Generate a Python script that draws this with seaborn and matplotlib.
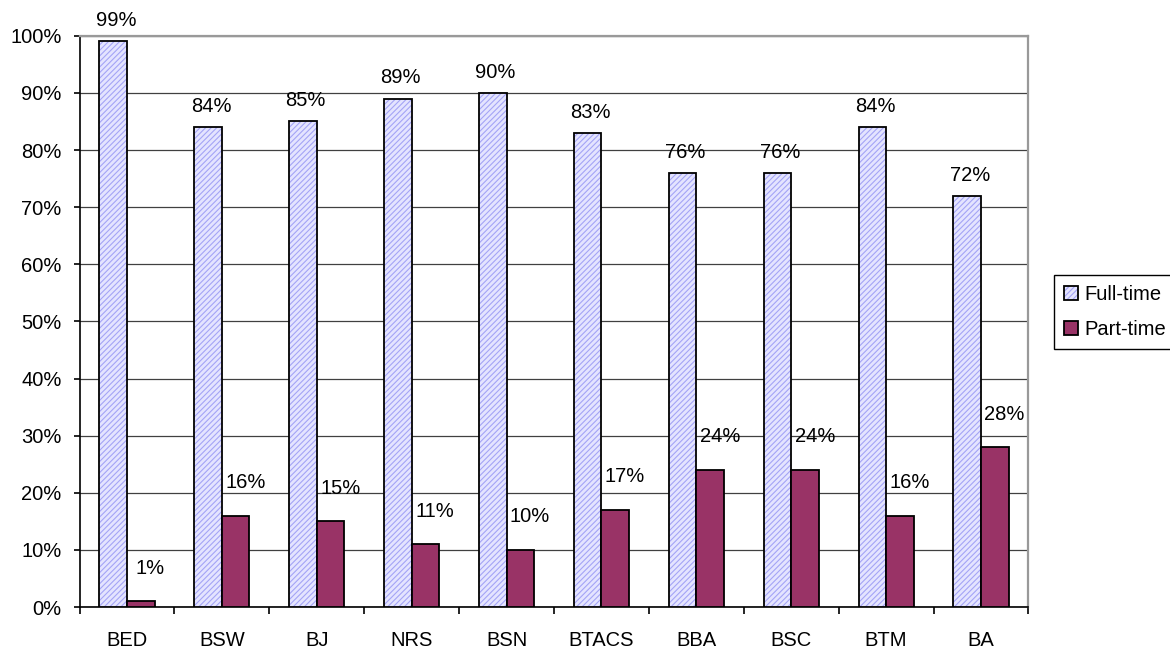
import matplotlib
matplotlib.use("Agg")
import matplotlib.pyplot as plt
from matplotlib.colors import to_rgba
from matplotlib.ticker import PercentFormatter, FixedLocator
import seaborn as sb
import pandas as pd

# data
programs = ['BED', 'BSW', 'BJ', 'NRS', 'BSN', 'BTACS', 'BBA', 'BSC', 'BTM', 'BA']
full_time = [99, 84, 85, 89, 90, 83, 76, 76, 84, 72]
part_time = [1, 16, 15, 11, 10, 17, 24, 24, 16, 28]
series = ['Full-time', 'Part-time']

df = pd.DataFrame({
    'program': programs * 2,
    'status': [series[0]] * len(programs) + [series[1]] * len(programs),
    'pct': full_time + part_time,
})

sb.set_style('white')
plt.rcParams['font.family'] = ['Liberation Sans', 'DejaVu Sans']
plt.rcParams['font.size'] = 14.5
plt.rcParams['text.color'] = 'black'
plt.rcParams['xtick.color'] = 'black'
plt.rcParams['ytick.color'] = 'black'
plt.rcParams['hatch.linewidth'] = 0.8

fig = plt.figure(figsize=(11.7, 6.5), dpi=100)
ax = fig.add_axes([0.068, 0.066, 0.811, 0.879])

sb.barplot(data=df, x='program', y='pct', hue='status', order=programs,
           hue_order=series, palette=['#e4e4ff', '#993366'], saturation=1,
           width=0.58, gap=0, edgecolor='black', linewidth=1.3,
           legend=False, ax=ax, zorder=3)

# hatch the full-time bars with thin lavender stripes
for p in ax.containers[0]:
    p.set_hatch('//////')
    p._hatch_color = to_rgba('#a4a4f6')

ax.set_ylim(0, 100)
ax.set_xlim(-0.5, len(programs) - 0.5)
ax.yaxis.set_major_locator(FixedLocator(range(0, 101, 10)))
ax.yaxis.set_major_formatter(PercentFormatter(decimals=0))
ax.grid(axis='y', color='#404040', linewidth=0.9, zorder=0)
ax.set_axisbelow(True)
ax.set_xlabel('')
ax.set_ylabel('')

for side in ['left', 'bottom']:
    ax.spines[side].set_color('black')
    ax.spines[side].set_linewidth(1.2)
for side in ['top', 'right']:
    ax.spines[side].set_color('#999999')
    ax.spines[side].set_linewidth(1.6)

# category boundary ticks on the x axis, labels centred
ax.set_xticks([i - 0.5 for i in range(len(programs) + 1)], minor=False)
ax.set_xticklabels([''] * (len(programs) + 1))
ax.set_xticks(range(len(programs)), minor=True)
ax.set_xticklabels(programs, minor=True)
ax.tick_params(axis='x', which='major', length=5, width=1.2, direction='out', bottom=True)
ax.tick_params(axis='x', which='minor', length=0, pad=17, labelsize=14.5)
ax.tick_params(axis='y', length=4, width=1.2, direction='out', left=True, pad=9, labelsize=14.5)

# value labels
for p, v in zip(ax.containers[0], full_time):
    ax.annotate(f'{v}%', (p.get_x() + p.get_width() / 2, p.get_height()),
                xytext=(2, 8), textcoords='offset points',
                ha='center', va='bottom', fontsize=14.5)
for p, v in zip(ax.containers[1], part_time):
    ax.annotate(f'{v}%', (p.get_x() + p.get_width() / 2, p.get_height()),
                xytext=(7, 17), textcoords='offset points',
                ha='center', va='bottom', fontsize=14.5)

leg = fig.legend(handles=[ax.containers[0][0], ax.containers[1][0]], labels=series,
                 loc='center left', bbox_to_anchor=(0.901, 0.52),
                 frameon=True, fancybox=False, framealpha=1, edgecolor='black',
                 handlelength=0.7, handleheight=0.7, handletextpad=0.3,
                 borderpad=0.5, labelspacing=0.8, fontsize=14.5, borderaxespad=0)
leg.get_frame().set_linewidth(1.0)

fig.savefig('out.png', dpi=100)
